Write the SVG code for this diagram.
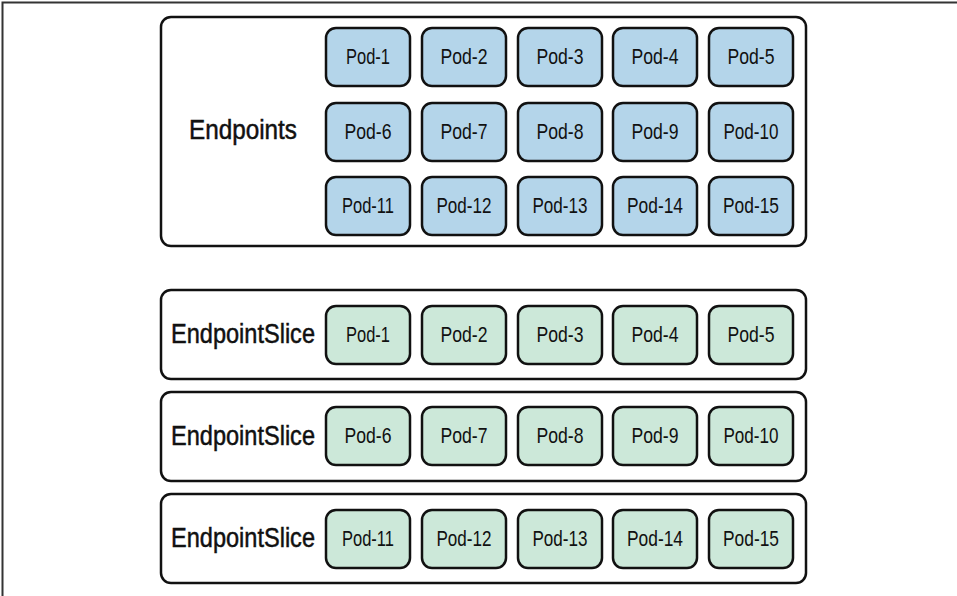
<svg xmlns="http://www.w3.org/2000/svg" width="957" height="596" viewBox="0 0 957 596">
<style>
.frame{fill:none;stroke:#333;stroke-width:2}
.box{fill:#fff;stroke:#111;stroke-width:2.5}
.pod{stroke:#111;stroke-width:2.5}
.blue{fill:#b4d5ea}
.green{fill:#cce8d9}
.pt{font-family:"Liberation Sans",Arial,sans-serif;font-size:22px;fill:#111;text-anchor:middle}
.lbl{font-family:"Liberation Sans",Arial,sans-serif;font-size:27px;fill:#111;stroke:#111;stroke-width:0.5;text-anchor:middle}
</style>
<defs>
<rect id="podr" width="84" height="58" rx="10"/>
</defs>
<rect width="957" height="596" fill="#fff"/>
<path class="frame" d="M2.5,596 V2.5 H957"/>

<g id="endpoints">
<rect class="box" x="161" y="17" width="645" height="229" rx="10"/>
<text class="lbl" x="243" y="139" textLength="108" lengthAdjust="spacingAndGlyphs">Endpoints</text>
</g>
<g id="ep-pods">
<g id="ep-pod-1"><use href="#podr" class="pod blue" x="326" y="28"/><text class="pt" x="368" y="64" textLength="44" lengthAdjust="spacingAndGlyphs">Pod-1</text></g>
<g id="ep-pod-2"><use href="#podr" class="pod blue" x="422" y="28"/><text class="pt" x="464" y="64" textLength="47" lengthAdjust="spacingAndGlyphs">Pod-2</text></g>
<g id="ep-pod-3"><use href="#podr" class="pod blue" x="518" y="28"/><text class="pt" x="560" y="64" textLength="47" lengthAdjust="spacingAndGlyphs">Pod-3</text></g>
<g id="ep-pod-4"><use href="#podr" class="pod blue" x="613" y="28"/><text class="pt" x="655" y="64" textLength="47" lengthAdjust="spacingAndGlyphs">Pod-4</text></g>
<g id="ep-pod-5"><use href="#podr" class="pod blue" x="709" y="28"/><text class="pt" x="751" y="64" textLength="47" lengthAdjust="spacingAndGlyphs">Pod-5</text></g>
<g id="ep-pod-6"><use href="#podr" class="pod blue" x="326" y="103"/><text class="pt" x="368" y="139" textLength="47" lengthAdjust="spacingAndGlyphs">Pod-6</text></g>
<g id="ep-pod-7"><use href="#podr" class="pod blue" x="422" y="103"/><text class="pt" x="464" y="139" textLength="47" lengthAdjust="spacingAndGlyphs">Pod-7</text></g>
<g id="ep-pod-8"><use href="#podr" class="pod blue" x="518" y="103"/><text class="pt" x="560" y="139" textLength="47" lengthAdjust="spacingAndGlyphs">Pod-8</text></g>
<g id="ep-pod-9"><use href="#podr" class="pod blue" x="613" y="103"/><text class="pt" x="655" y="139" textLength="47" lengthAdjust="spacingAndGlyphs">Pod-9</text></g>
<g id="ep-pod-10"><use href="#podr" class="pod blue" x="709" y="103"/><text class="pt" x="751" y="139" textLength="55" lengthAdjust="spacingAndGlyphs">Pod-10</text></g>
<g id="ep-pod-11"><use href="#podr" class="pod blue" x="326" y="177"/><text class="pt" x="368" y="213" textLength="52" lengthAdjust="spacingAndGlyphs">Pod-11</text></g>
<g id="ep-pod-12"><use href="#podr" class="pod blue" x="422" y="177"/><text class="pt" x="464" y="213" textLength="55" lengthAdjust="spacingAndGlyphs">Pod-12</text></g>
<g id="ep-pod-13"><use href="#podr" class="pod blue" x="518" y="177"/><text class="pt" x="560" y="213" textLength="55" lengthAdjust="spacingAndGlyphs">Pod-13</text></g>
<g id="ep-pod-14"><use href="#podr" class="pod blue" x="613" y="177"/><text class="pt" x="655" y="213" textLength="56" lengthAdjust="spacingAndGlyphs">Pod-14</text></g>
<g id="ep-pod-15"><use href="#podr" class="pod blue" x="709" y="177"/><text class="pt" x="751" y="213" textLength="56" lengthAdjust="spacingAndGlyphs">Pod-15</text></g>
</g>

<g id="slice-1">
<rect class="box" x="161" y="290" width="645" height="89" rx="10"/>
<text class="lbl" x="243" y="343" textLength="144" lengthAdjust="spacingAndGlyphs">EndpointSlice</text>
<g id="s1-pod-1"><use href="#podr" class="pod green" x="326" y="306"/><text class="pt" x="368" y="342" textLength="44" lengthAdjust="spacingAndGlyphs">Pod-1</text></g>
<g id="s1-pod-2"><use href="#podr" class="pod green" x="422" y="306"/><text class="pt" x="464" y="342" textLength="47" lengthAdjust="spacingAndGlyphs">Pod-2</text></g>
<g id="s1-pod-3"><use href="#podr" class="pod green" x="518" y="306"/><text class="pt" x="560" y="342" textLength="47" lengthAdjust="spacingAndGlyphs">Pod-3</text></g>
<g id="s1-pod-4"><use href="#podr" class="pod green" x="613" y="306"/><text class="pt" x="655" y="342" textLength="47" lengthAdjust="spacingAndGlyphs">Pod-4</text></g>
<g id="s1-pod-5"><use href="#podr" class="pod green" x="709" y="306"/><text class="pt" x="751" y="342" textLength="47" lengthAdjust="spacingAndGlyphs">Pod-5</text></g>
</g>

<g id="slice-2">
<rect class="box" x="161" y="392" width="645" height="89" rx="10"/>
<text class="lbl" x="243" y="445" textLength="144" lengthAdjust="spacingAndGlyphs">EndpointSlice</text>
<g id="s2-pod-6"><use href="#podr" class="pod green" x="326" y="407"/><text class="pt" x="368" y="443" textLength="47" lengthAdjust="spacingAndGlyphs">Pod-6</text></g>
<g id="s2-pod-7"><use href="#podr" class="pod green" x="422" y="407"/><text class="pt" x="464" y="443" textLength="47" lengthAdjust="spacingAndGlyphs">Pod-7</text></g>
<g id="s2-pod-8"><use href="#podr" class="pod green" x="518" y="407"/><text class="pt" x="560" y="443" textLength="47" lengthAdjust="spacingAndGlyphs">Pod-8</text></g>
<g id="s2-pod-9"><use href="#podr" class="pod green" x="613" y="407"/><text class="pt" x="655" y="443" textLength="47" lengthAdjust="spacingAndGlyphs">Pod-9</text></g>
<g id="s2-pod-10"><use href="#podr" class="pod green" x="709" y="407"/><text class="pt" x="751" y="443" textLength="55" lengthAdjust="spacingAndGlyphs">Pod-10</text></g>
</g>

<g id="slice-3">
<rect class="box" x="161" y="494" width="645" height="89" rx="10"/>
<text class="lbl" x="243" y="547" textLength="144" lengthAdjust="spacingAndGlyphs">EndpointSlice</text>
<g id="s3-pod-11"><use href="#podr" class="pod green" x="326" y="510"/><text class="pt" x="368" y="546" textLength="52" lengthAdjust="spacingAndGlyphs">Pod-11</text></g>
<g id="s3-pod-12"><use href="#podr" class="pod green" x="422" y="510"/><text class="pt" x="464" y="546" textLength="55" lengthAdjust="spacingAndGlyphs">Pod-12</text></g>
<g id="s3-pod-13"><use href="#podr" class="pod green" x="518" y="510"/><text class="pt" x="560" y="546" textLength="55" lengthAdjust="spacingAndGlyphs">Pod-13</text></g>
<g id="s3-pod-14"><use href="#podr" class="pod green" x="613" y="510"/><text class="pt" x="655" y="546" textLength="56" lengthAdjust="spacingAndGlyphs">Pod-14</text></g>
<g id="s3-pod-15"><use href="#podr" class="pod green" x="709" y="510"/><text class="pt" x="751" y="546" textLength="56" lengthAdjust="spacingAndGlyphs">Pod-15</text></g>
</g>
<g id="connectors"></g>
</svg>
